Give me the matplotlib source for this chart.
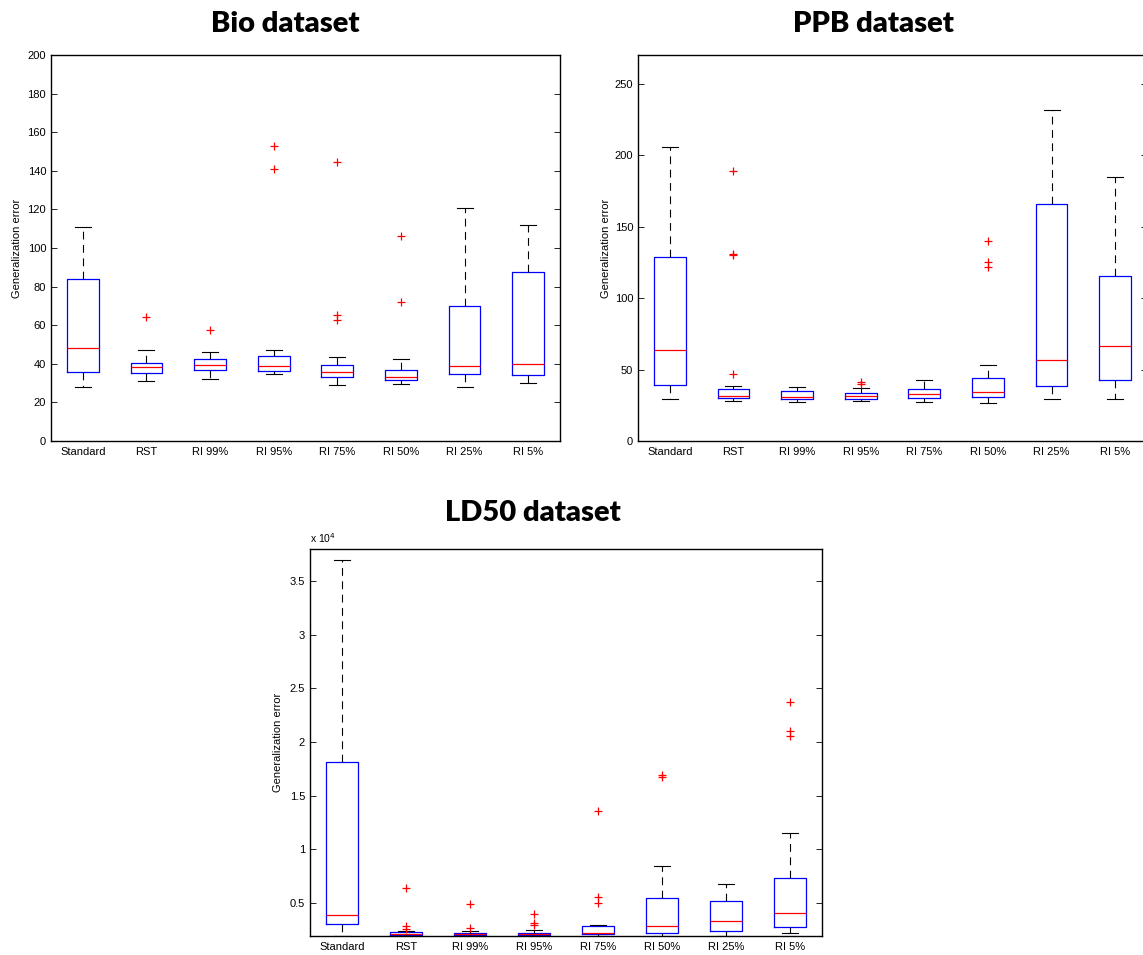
import matplotlib.pyplot as plt
from matplotlib.ticker import FuncFormatter

plt.rcParams['font.family'] = ['Liberation Sans', 'DejaVu Sans']

labels = ["Standard", "RST", "RI 99%", "RI 95%", "RI 75%", "RI 50%", "RI 25%", "RI 5%"]

# Bio dataset: whisker low, Q1, median, Q3, whisker high, outliers
bio_lo = [28, 31, 32, 34.5, 29, 29.5, 28, 30]
bio_q1 = [35.5, 35, 37, 36.5, 33, 31.5, 34.5, 34]
bio_med = [48, 38.5, 39.5, 39, 35.5, 33, 39, 40]
bio_q3 = [84, 40.5, 42.5, 44, 39.5, 37, 70, 87.5]
bio_hi = [111, 47, 46, 47, 43.5, 42.5, 120.5, 112]
bio_out = [[], [64], [57.5], [141, 153], [62.5, 65.5, 144.5], [72, 106], [], []]

# PPB dataset
ppb_lo = [29.6, 28, 27.3, 28.2, 27.3, 26.6, 29.6, 29.6]
ppb_q1 = [39.4, 29.8, 29.6, 29.6, 29.8, 31, 38.4, 42.6]
ppb_med = [63.8, 31.7, 31, 31.7, 33.1, 34.5, 56.4, 66.2]
ppb_q3 = [128.6, 36.6, 35.2, 33.3, 36.3, 44, 166, 115.6]
ppb_hi = [205.5, 38.2, 38, 37.3, 42.6, 53.4, 231.8, 184.5]
ppb_out = [[], [47, 129.8, 130.5, 188.7], [], [39.8, 41], [], [121.4, 125.1, 139.6], [], []]

# LD50 dataset
ld_lo = [1960, 1960, 1960, 1960, 1960, 1960, 1960, 2210]
ld_q1 = [3045, 2050, 2020, 2020, 2120, 2180, 2420, 2770]
ld_med = [3910, 2150, 2120, 2150, 2210, 2830, 3360, 4070]
ld_q3 = [18090, 2270, 2210, 2240, 2890, 5470, 5190, 7300]
ld_hi = [36930, 2360, 2360, 2490, 2980, 8480, 6770, 11520]
ld_out = [[], [2610, 2890, 6430], [2670, 4900], [2980, 3170, 4000],
          [4970, 5530, 13600], [16700, 16880], [], [20520, 20990, 23750]]


def make_stats(lo, q1, med, q3, hi, out):
    return [dict(whislo=a, q1=b, med=c, q3=d, whishi=e, fliers=f, label=l)
            for a, b, c, d, e, f, l in zip(lo, q1, med, q3, hi, out, labels)]


def draw_box(ax, stats, yticks, ylim):
    ax.bxp(stats, positions=range(1, len(stats) + 1), widths=0.5, capwidths=0.25,
           boxprops=dict(color='blue', linewidth=0.9),
           medianprops=dict(color='red', linewidth=0.9),
           whiskerprops=dict(color='black', linewidth=0.8, linestyle=(0, (7, 5))),
           capprops=dict(color='black', linewidth=0.8),
           flierprops=dict(marker='+', markeredgecolor='red', markersize=6, markeredgewidth=0.9))
    ax.set_xlim(0.5, len(stats) + 0.5)
    ax.set_ylim(*ylim)
    ax.set_yticks(yticks)
    ax.tick_params(axis='y', direction='in', length=4, right=True, labelsize=8, width=0.6)
    ax.tick_params(axis='x', length=0, labelsize=8, pad=4)
    for s in ax.spines.values():
        s.set_linewidth(1.0)
    ax.set_ylabel('Generalization error', fontsize=8)


fig = plt.figure(figsize=(11.43, 9.55), dpi=100)

ax1 = fig.add_axes([51 / 1143, 1 - 441 / 955, 509 / 1143, 386 / 955])
draw_box(ax1, make_stats(bio_lo, bio_q1, bio_med, bio_q3, bio_hi, bio_out),
         range(0, 201, 20), (0, 200))
ax1.yaxis.set_label_coords(-0.056, 0.5)

ax2 = fig.add_axes([638 / 1143, 1 - 441 / 955, 509 / 1143, 386 / 955])
draw_box(ax2, make_stats(ppb_lo, ppb_q1, ppb_med, ppb_q3, ppb_hi, ppb_out),
         range(0, 251, 50), (0, 270))
ax2.yaxis.set_label_coords(-0.054, 0.5)

ax3 = fig.add_axes([310 / 1143, 1 - 936 / 955, 512 / 1143, 387 / 955])
draw_box(ax3, make_stats(ld_lo, ld_q1, ld_med, ld_q3, ld_hi, ld_out),
         [5000, 10000, 15000, 20000, 25000, 30000, 35000], (1925, 37980))
ax3.yaxis.set_major_formatter(FuncFormatter(lambda v, p: f"{v / 1e4:g}"))
ax3.yaxis.set_label_coords(-0.053, 0.5)
ax3.text(0.0, 1.01, r'x 10$^4$', transform=ax3.transAxes, fontsize=7.5, va='bottom', ha='left')

title_font = dict(family=['Lato', 'DejaVu Sans'], fontweight='heavy', fontsize=21, ha='center', va='center')
fig.text(285 / 1143, 1 - 24 / 955, 'Bio dataset', **title_font)
fig.text(873 / 1143, 1 - 24 / 955, 'PPB dataset', **title_font)
fig.text(533 / 1143, 1 - 513 / 955, 'LD50 dataset', **title_font)

fig.savefig('out.png', dpi=100)
